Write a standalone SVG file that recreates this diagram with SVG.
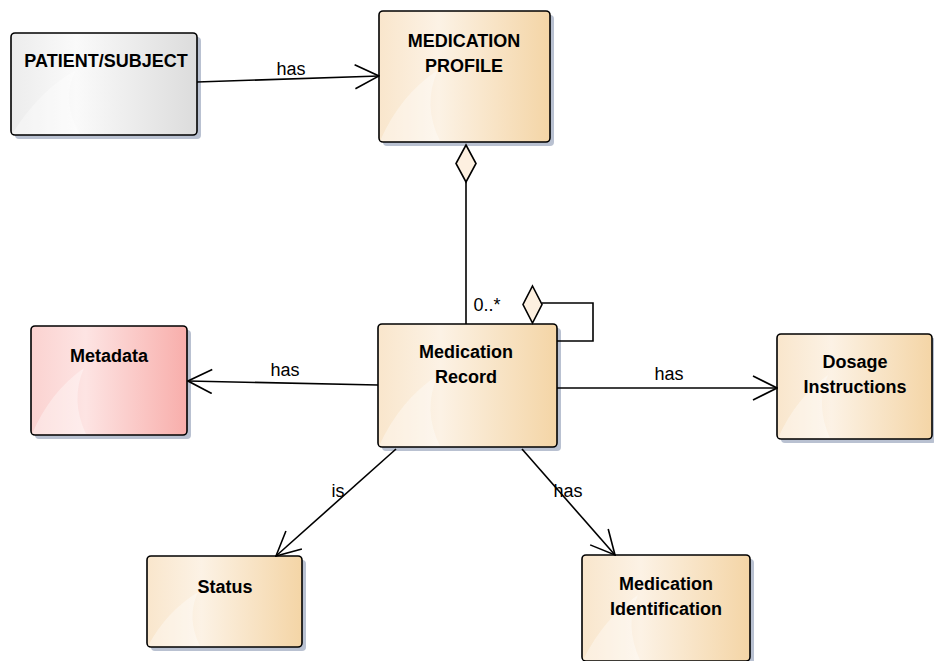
<svg xmlns="http://www.w3.org/2000/svg" width="934" height="661" viewBox="0 0 934 661">
<defs>
<linearGradient id="gOr" x1="0" y1="0" x2="1" y2="0">
<stop offset="0" stop-color="#f9e6cc"/>
<stop offset="0.35" stop-color="#fcf2e5"/>
<stop offset="1" stop-color="#f4d5a6"/>
</linearGradient>
<linearGradient id="gPk" x1="0" y1="0" x2="1" y2="0">
<stop offset="0" stop-color="#fbd2d0"/>
<stop offset="0.35" stop-color="#fde4e3"/>
<stop offset="1" stop-color="#f8aeab"/>
</linearGradient>
<linearGradient id="gGr" x1="0" y1="0" x2="1" y2="0">
<stop offset="0" stop-color="#ececec"/>
<stop offset="0.35" stop-color="#fafafa"/>
<stop offset="1" stop-color="#dcdcdc"/>
</linearGradient>
<marker id="open" viewBox="0 0 26 26" refX="25" refY="13" markerWidth="26" markerHeight="26" markerUnits="userSpaceOnUse" orient="auto">
<path d="M1,1 L25,13 L1,25" fill="none" stroke="#000" stroke-width="1.6"/>
</marker>
</defs>
<style>
.shadow{fill:#b9c1d1}
.box{stroke:#000;stroke-width:1.6}
.or{fill:url(#gOr)}
.pk{fill:url(#gPk)}
.gr{fill:url(#gGr)}
.hl{fill:#ffffff;opacity:0.35}
.t{font-family:"Liberation Sans",Arial,sans-serif;font-weight:bold;font-size:18px;fill:#000;text-anchor:middle}
.lbl{font-family:"Liberation Sans",Arial,sans-serif;font-size:18px;fill:#000;text-anchor:middle}
.ln{fill:none;stroke:#000;stroke-width:1.6}
.dia{fill:#fdf0e0;stroke:#000;stroke-width:1.6}
</style>

<g id="patient">
<rect class="shadow" x="15" y="37" width="186" height="102" rx="4"/>
<rect class="box gr" x="11" y="33" width="186" height="102" rx="4"/>
<path class="hl" d="M12,134 L80,134 Q60,100 76,70 Q40,90 12,134 Z"/>
<text class="t" x="106" y="67">PATIENT/SUBJECT</text>
</g>

<g id="profile">
<rect class="shadow" x="383" y="15" width="171" height="131" rx="4"/>
<rect class="box or" x="379" y="11" width="171" height="131" rx="4"/>
<path class="hl" d="M380,141 L440,141 Q422,105 438,70 Q400,95 380,141 Z"/>
<text class="t" x="464" y="47">MEDICATION</text>
<text class="t" x="464" y="72">PROFILE</text>
</g>

<g id="record">
<rect class="shadow" x="382" y="328" width="179" height="123" rx="4"/>
<rect class="box or" x="378" y="324" width="179" height="123" rx="4"/>
<path class="hl" d="M379,446 L440,446 Q422,410 438,375 Q400,400 379,446 Z"/>
<text class="t" x="466" y="358">Medication</text>
<text class="t" x="466" y="383">Record</text>
</g>

<g id="metadata">
<rect class="shadow" x="35" y="330" width="156" height="109" rx="4"/>
<rect class="box pk" x="31" y="326" width="156" height="109" rx="4"/>
<path class="hl" d="M32,434 L86,434 Q70,400 84,368 Q50,392 32,434 Z"/>
<text class="t" x="109" y="362">Metadata</text>
</g>

<g id="dosage">
<rect class="shadow" x="781" y="338" width="155" height="105" rx="4"/>
<rect class="box or" x="777" y="334" width="155" height="105" rx="4"/>
<path class="hl" d="M778,438 L830,438 Q815,405 828,375 Q796,398 778,438 Z"/>
<text class="t" x="855" y="368">Dosage</text>
<text class="t" x="855" y="393">Instructions</text>
</g>

<g id="status">
<rect class="shadow" x="151" y="560" width="155" height="91" rx="4"/>
<rect class="box or" x="147" y="556" width="155" height="91" rx="4"/>
<path class="hl" d="M148,646 L200,646 Q186,618 198,592 Q166,612 148,646 Z"/>
<text class="t" x="225" y="593">Status</text>
</g>

<g id="identification">
<rect class="shadow" x="586" y="559" width="168" height="106" rx="4"/>
<rect class="box or" x="582" y="555" width="168" height="106" rx="4"/>
<path class="hl" d="M583,660 L640,660 Q624,625 638,595 Q604,618 583,660 Z"/>
<text class="t" x="666" y="590">Medication</text>
<text class="t" x="666" y="615">Identification</text>
</g>

<g id="connectors">
<line class="ln" x1="197" y1="82" x2="379" y2="76" marker-end="url(#open)"/>
<text class="lbl" x="291" y="75">has</text>

<line class="ln" x1="466" y1="182" x2="466" y2="324"/>
<path class="dia" d="M466,145 L476,163.5 L466,182 L456,163.5 Z"/>
<text class="lbl" x="487" y="311">0..*</text>

<path class="ln" d="M542,303 L593,303 L593,341 L557,341"/>
<path class="dia" d="M532.5,286 L542,304.5 L532.5,323 L523,304.5 Z"/>

<line class="ln" x1="378" y1="385" x2="188" y2="381" marker-end="url(#open)"/>
<text class="lbl" x="285" y="376">has</text>

<line class="ln" x1="557" y1="388" x2="777" y2="388" marker-end="url(#open)"/>
<text class="lbl" x="669" y="380">has</text>

<line class="ln" x1="396" y1="449" x2="276" y2="556" marker-end="url(#open)"/>
<text class="lbl" x="338" y="497">is</text>

<line class="ln" x1="522" y1="449" x2="615" y2="555" marker-end="url(#open)"/>
<text class="lbl" x="568" y="497">has</text>
</g>
</svg>
